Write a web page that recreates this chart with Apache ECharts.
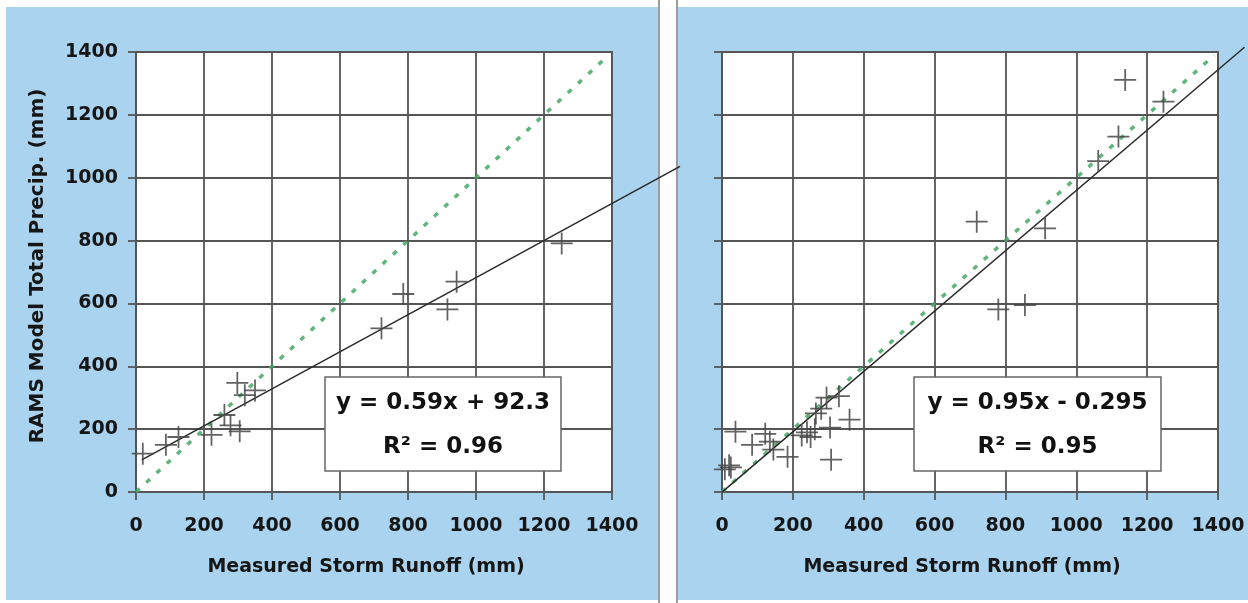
<!DOCTYPE html>
<html>
<head>
<meta charset="utf-8">
<script src="https://cdn.jsdelivr.net/npm/echarts@6/dist/echarts.min.js"></script>
<style>
  html, body { margin: 0; padding: 0; background: #fff; }
  #wrap { position: relative; width: 1248px; height: 603px; overflow: hidden; }
  .panel { position: absolute; top: 7px; height: 593px; background: #a9d3ef; }
  .sep { position: absolute; top: 0; width: 2px; height: 603px; background: #9c9c9c; }
  #chart { position: absolute; left: 0; top: 0; width: 1248px; height: 603px; }
</style>
</head>
<body>
<div id="wrap">
  <div class="panel" style="left:6px;width:653px;"></div>
  <div class="sep" style="left:658px;"></div>
  <div class="sep" style="left:676px;"></div>
  <div class="panel" style="left:678px;width:570px;"></div>
  <div id="chart"></div>
</div>
<script>
// left panel: measured runoff vs RAMS precip (mm)
var leftRunoff = [20, 88, 125, 222, 260, 278, 305, 298, 350, 320, 722, 786, 943, 916, 1252];
var leftPrecip = [122, 150, 175, 182, 245, 212, 193, 347, 323, 308, 521, 630, 669, 581, 791];
// right panel
var rightRunoff = [8, 20, 25, 38, 85, 122, 135, 145, 185, 225, 240, 250, 262, 265, 280, 295, 330, 305, 360, 308,
                   719, 780, 855, 912, 1062, 1119, 1138, 1246];
var rightPrecip = [72, 85, 78, 192, 150, 185, 160, 135, 112, 180, 190, 175, 200, 250, 265, 300, 305, 205, 230, 103,
                   860, 581, 595, 839, 1053, 1131, 1311, 1242];
// trend lines (endpoints as drawn, they run past the plot frame) and 1:1 lines
var leftFit = [[17, 102.3], [1600, 1036.3]];
var rightFit = [[0, -0.3], [1490, 1415.2]];
var leftOneToOne = [[0, 0], [1385, 1385]];
var rightOneToOne = [[0, 0], [1390, 1390]];
var axisTicks = [0, 1400, 200]; // min, max, interval

var FONT = '"DejaVu Sans", "Liberation Sans", Arial, sans-serif';
var TXT = '#161616';
var GRIDC = '#555';
var cross = 'path://M0,9.2h20v1.6h-20z M9.2,0h1.6v20h-1.6z';

function zip(xs, ys) {
  var out = [];
  for (var i = 0; i < xs.length; i++) out.push([xs[i], ys[i]]);
  return out;
}

function plain(v) { return String(v); }

function xAxis(idx) {
  return {
    type: 'value', gridIndex: idx,
    min: axisTicks[0], max: axisTicks[1], interval: axisTicks[2],
    name: 'Measured Storm Runoff (mm)', nameLocation: 'middle', nameGap: 66,
    nameTextStyle: { fontFamily: FONT, fontWeight: 'bold', fontSize: 19, color: TXT, padding: [0, 16, 0, 0] },
    axisLine: { show: true, lineStyle: { color: GRIDC, width: 1.8 } },
    axisTick: { show: true, inside: false, length: 8, lineStyle: { color: GRIDC, width: 1.8 } },
    axisLabel: { margin: 25, formatter: plain, fontFamily: FONT, fontWeight: 'bold', fontSize: 19, color: TXT },
    splitLine: { show: true, lineStyle: { color: GRIDC, width: 1.8 } }
  };
}

function yAxis(idx, labels) {
  var a = {
    type: 'value', gridIndex: idx,
    min: axisTicks[0], max: axisTicks[1], interval: axisTicks[2],
    axisLine: { show: true, lineStyle: { color: GRIDC, width: 1.8 } },
    axisTick: { show: true, inside: false, length: 8, lineStyle: { color: GRIDC, width: 1.8 } },
    axisLabel: { show: labels, margin: 18, formatter: plain, fontFamily: FONT, fontWeight: 'bold', fontSize: 19, color: TXT },
    splitLine: { show: true, lineStyle: { color: GRIDC, width: 1.8 } }
  };
  if (labels) {
    a.name = 'RAMS Model Total Precip. (mm)';
    a.nameLocation = 'middle';
    a.nameGap = 88;
    a.nameTextStyle = { fontFamily: FONT, fontWeight: 'bold', fontSize: 20, color: TXT, padding: [0, 0, 0, 12] };
  }
  return a;
}

// invisible axis used only to let a trend line run past the frame
function hiddenAxis(idx, max) {
  return {
    type: 'value', gridIndex: idx, min: 0, max: max, show: false,
    axisLine: { show: false }, axisTick: { show: false }, axisLabel: { show: false }, splitLine: { show: false }
  };
}

function points(idx, xs, ys) {
  return {
    type: 'scatter', xAxisIndex: idx, yAxisIndex: idx, data: zip(xs, ys),
    symbol: cross, symbolSize: 22, z: 5, silent: true,
    itemStyle: { color: '#474747', opacity: 0.85 }
  };
}

function fitLine(idx, data) {
  return {
    type: 'line', xAxisIndex: idx, yAxisIndex: idx, data: data, clip: false,
    symbol: 'none', z: 4, silent: true,
    lineStyle: { color: '#2a2a2a', width: 1.5 }
  };
}

function oneToOne(idx, data) {
  return {
    type: 'line', xAxisIndex: idx, yAxisIndex: idx, data: data, clip: false,
    symbol: 'none', z: 3, silent: true,
    lineStyle: { color: '#45a865', width: 3.5, type: [5, 9], opacity: 0.85 }
  };
}

function eqBox(x, y, w, h, line1, line2) {
  var cx = x + w / 2;
  var txt = { fontFamily: FONT, fontWeight: 'bold', fontSize: 23, fill: '#111', align: 'center', verticalAlign: 'middle' };
  return [
    { type: 'rect', z: 10, shape: { x: x, y: y, width: w, height: h },
      style: { fill: '#fff', stroke: '#666', lineWidth: 1.5 } },
    { type: 'text', z: 11, x: cx, y: y + 26, style: Object.assign({ text: line1 }, txt) },
    { type: 'text', z: 11, x: cx, y: y + 70, style: Object.assign({ text: line2 }, txt) }
  ];
}

var chart = echarts.init(document.getElementById('chart'), null, { renderer: 'canvas' });
chart.setOption({
  backgroundColor: 'transparent',
  animation: false,
  grid: [
    { left: 136, top: 52, width: 476, height: 440, show: true, backgroundColor: '#fff', borderColor: GRIDC, borderWidth: 1.8 },
    { left: 722, top: 52, width: 496, height: 440, show: true, backgroundColor: '#fff', borderColor: GRIDC, borderWidth: 1.8 },
    // same scale as grid 0, x stretched to 1600
    { left: 136, top: 52, width: 476 * 1600 / 1400, height: 440, show: false },
    // same scale as grid 1, x and y stretched to 1500
    { left: 722, top: 492 - 440 * 1500 / 1400, width: 496 * 1500 / 1400, height: 440 * 1500 / 1400, show: false }
  ],
  xAxis: [xAxis(0), xAxis(1), hiddenAxis(2, 1600), hiddenAxis(3, 1500)],
  yAxis: [yAxis(0, true), yAxis(1, false), hiddenAxis(2, 1400), hiddenAxis(3, 1500)],
  series: [
    oneToOne(0, leftOneToOne), fitLine(2, leftFit), points(0, leftRunoff, leftPrecip),
    oneToOne(1, rightOneToOne), fitLine(3, rightFit), points(1, rightRunoff, rightPrecip)
  ],
  graphic: eqBox(325, 377, 236, 94, 'y = 0.59x + 92.3', 'R² = 0.96')
    .concat(eqBox(914, 377, 247, 94, 'y = 0.95x - 0.295', 'R² = 0.95'))
});
</script>
</body>
</html>
